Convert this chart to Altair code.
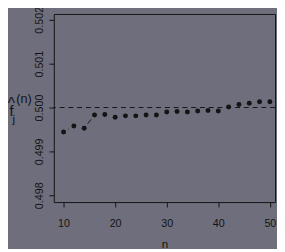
import math
import altair as alt
import pandas as pd

# data
n_vals = [10, 12, 14, 16, 18, 20, 22, 24, 26, 28, 30, 32, 34, 36, 38, 40, 42, 44, 46, 48, 50]
f_vals = [0.49944, 0.49958, 0.49953, 0.49983, 0.49984, 0.49978, 0.49981, 0.49981, 0.49983, 0.49983,
          0.49990, 0.49991, 0.49990, 0.49992, 0.49993, 0.49992, 0.50001, 0.50007, 0.50010, 0.50013, 0.50013]
ref_value = [0.5]
x_ticks = [10, 20, 30, 40, 50]
y_ticks = [0.498, 0.499, 0.500, 0.501, 0.502]

X_DOM = [8.11, 51.0]
Y_DOM = [0.497844, 0.502133]
W, H = 227, 193

BG = "#6f6e7c"
INK = "#141414"

df = pd.DataFrame({"n": n_vals, "f": f_vals})

# R type="b": connecting segments with gaps around each point
px_x = W / (X_DOM[1] - X_DOM[0])
px_y = H / (Y_DOM[1] - Y_DOM[0])
gap = 5.8
segs = []
for i in range(len(n_vals) - 1):
    x1, y1, x2, y2 = n_vals[i], f_vals[i], n_vals[i + 1], f_vals[i + 1]
    d = math.hypot((x2 - x1) * px_x, (y2 - y1) * px_y)
    if d > 2 * gap:
        t = gap / d
        segs.append({"xa": x1 + (x2 - x1) * t, "ya": y1 + (y2 - y1) * t,
                     "xb": x2 - (x2 - x1) * t, "yb": y2 - (y2 - y1) * t})
seg_df = pd.DataFrame(segs)

xs = alt.Scale(domain=X_DOM, nice=False, zero=False)
ys = alt.Scale(domain=Y_DOM, nice=False, zero=False)

x_axis = alt.Axis(values=x_ticks, title="n", grid=False, domain=False, tickSize=5,
                  tickColor=INK, labelColor=INK, labelFontSize=11, labelPadding=11,
                  labelFont="Liberation Sans", titleFont="Liberation Sans", titleFontSize=12,
                  titleFontWeight="normal", titleColor=INK, titlePadding=11, format="d")
y_axis = alt.Axis(values=y_ticks, title=None, grid=False, domain=False, tickSize=5,
                  tickColor=INK, labelColor=INK, labelFontSize=11, labelAngle=270,
                  labelAlign="center", labelBaseline="alphabetic", labelPadding=7,
                  labelFont="Liberation Sans", format=".3f")

points = alt.Chart(df).mark_circle(size=26, color=INK, opacity=1).encode(
    x=alt.X("n:Q", scale=xs, axis=x_axis),
    y=alt.Y("f:Q", scale=ys, axis=y_axis),
)

lines = alt.Chart(seg_df).mark_rule(color=INK, strokeWidth=1).encode(
    x=alt.X("xa:Q", scale=xs), y=alt.Y("ya:Q", scale=ys),
    x2="xb:Q", y2="yb:Q",
)

hline = alt.Chart(pd.DataFrame({"v": ref_value})).mark_rule(
    color=INK, strokeWidth=1, strokeDash=[5, 4]).encode(y=alt.Y("v:Q", scale=ys))

def lab(text, x, y, size):
    return alt.Chart(pd.DataFrame({"t": [text]})).mark_text(
        font="Liberation Sans", fontSize=size, color=INK, align="center", baseline="middle"
    ).encode(text="t:N", x=alt.value(x), y=alt.value(y))

ylab = (lab("^", -43.5, 93, 16) + lab("f", -43.5, 100, 15) + lab("j", -41, 108, 12)
        + lab("(n)", -30.5, 87, 13))

chart = alt.layer(hline, lines, points, ylab).properties(
    width=W, height=H, background=BG,
    padding={"left": 47, "top": 3, "right": 2, "bottom": 45},
    autosize=alt.AutoSizeParams(type="none"),
).configure_view(stroke=INK, strokeWidth=1)

chart.save("out.html", embed_options={"renderer": "svg", "actions": False})
